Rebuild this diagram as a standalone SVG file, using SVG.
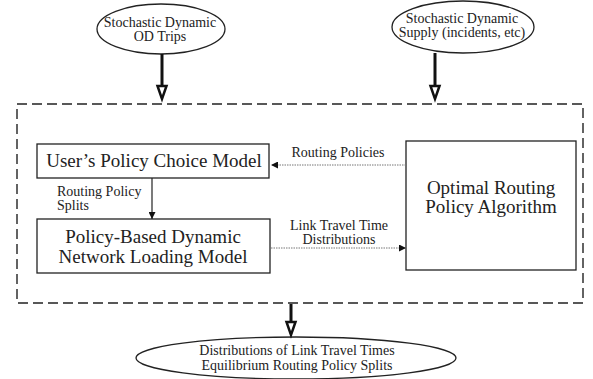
<svg xmlns="http://www.w3.org/2000/svg" width="593" height="379" viewBox="0 0 593 379">
<style>
text{font-family:"Liberation Serif","Times New Roman",serif;fill:#222;text-anchor:middle}
.big{font-size:19px}
.sm{font-size:14px}
.node{fill:#fff;stroke:#222;stroke-width:1.3}
.thick{stroke:#111;stroke-width:3;fill:none}
.head{fill:#fff;stroke:#111;stroke-width:2.5;stroke-linejoin:miter}
.dot{stroke:#777;stroke-width:1;stroke-dasharray:1.5 1;fill:none}
.dash{fill:none;stroke:#222;stroke-width:1.4;stroke-dasharray:10 5}
</style>
<defs>
<marker id="fa" viewBox="0 0 10 10" refX="10" refY="5" markerWidth="9" markerHeight="7" markerUnits="userSpaceOnUse" orient="auto">
<path d="M0,0 L10,5 L0,10 z" fill="#111"/>
</marker>
</defs>
<g id="container"><rect class="dash" x="17" y="104" width="566" height="199"/></g>
<g id="od-trips"><ellipse class="node" cx="161" cy="29" rx="64" ry="25"/><text class="sm" x="160" y="27">Stochastic Dynamic</text><text class="sm" x="160" y="41">OD Trips</text></g>
<g id="supply"><ellipse class="node" cx="463" cy="27" rx="71" ry="26"/><text class="sm" x="462" y="23">Stochastic Dynamic</text><text class="sm" x="462" y="37">Supply (incidents, etc)</text></g>
<g id="user-choice"><rect class="node" x="37" y="144" width="232" height="34"/><text class="big" x="154" y="167">User’s Policy Choice Model</text></g>
<g id="dnl"><rect class="node" x="37" y="219" width="233" height="54"/><text class="big" x="153" y="243">Policy-Based Dynamic</text><text class="big" x="153" y="263">Network Loading Model</text></g>
<g id="optimal"><rect class="node" x="406" y="141" width="170" height="129"/><text class="big" x="491" y="194">Optimal Routing</text><text class="big" x="491" y="213">Policy Algorithm</text></g>
<g id="results"><ellipse class="node" cx="296" cy="358" rx="160" ry="21"/><text class="sm" x="297" y="355">Distributions of Link Travel Times</text><text class="sm" x="297" y="370">Equilibrium Routing Policy Splits</text></g>
<g id="connectors">
<line class="thick" x1="162" y1="54" x2="162" y2="87"/>
<path class="head" d="M157.5,86 L166.5,86 L162,99 z"/>
<line class="thick" x1="435" y1="53" x2="435" y2="87"/>
<path class="head" d="M430.5,86 L439.5,86 L435,99 z"/>
<line class="thick" x1="291" y1="304" x2="291" y2="323"/>
<path class="head" d="M286.5,322 L295.5,322 L291,335 z"/>
<line x1="152" y1="178" x2="152" y2="219" stroke="#222" stroke-width="1.2" marker-end="url(#fa)"/>
<line class="dot" x1="406" y1="165" x2="271" y2="165" marker-end="url(#fa)"/>
<line class="dot" x1="271" y1="248" x2="406" y2="248" marker-end="url(#fa)"/>
<text class="sm" x="57" y="196" style="text-anchor:start">Routing Policy</text>
<text class="sm" x="57" y="210" style="text-anchor:start">Splits</text>
<text class="sm" x="338" y="157">Routing Policies</text>
<text class="sm" x="339" y="230">Link Travel Time</text>
<text class="sm" x="339" y="244">Distributions</text>
</g>
</svg>
